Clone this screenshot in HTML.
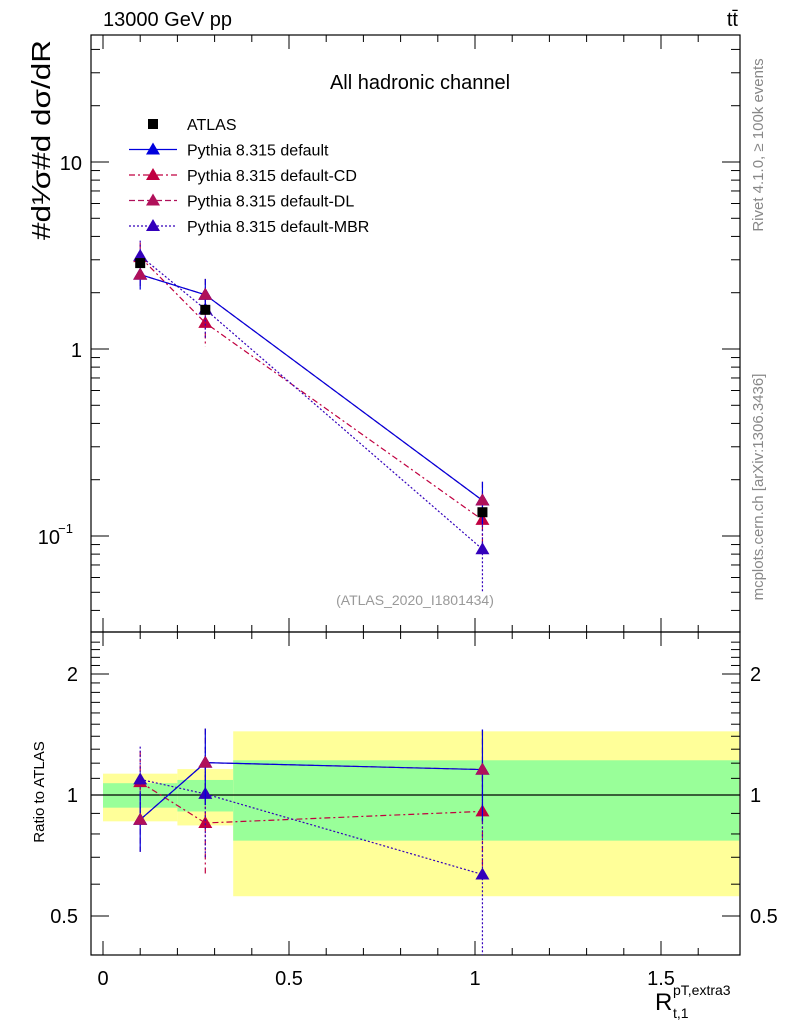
<!DOCTYPE html>
<html><head><meta charset="utf-8"><style>
body{margin:0;background:#fff;}
svg{display:block;font-family:"Liberation Sans",sans-serif;}
</style></head><body>
<svg id="c" width="786" height="1024"></svg>
<script>
const binLo=[0,0.2,0.35];
const binHi=[0.2,0.35,1.71];
const xPts=[0.1,0.275,1.02];
const atlas=[2.88,1.62,0.134];
const atlasErr=[0.15,0.08,0.006];
const bandGreenLo=[0.93,0.91,0.77];
const bandGreenHi=[1.07,1.09,1.22];
const bandYelLo=[0.86,0.84,0.56];
const bandYelHi=[1.13,1.16,1.44];
const sDefault=[2.5,1.95,0.155];
const sCD=[3.1,1.38,0.122];
const sDL=[2.5,1.95,0.155];
const sMBR=[3.15,1.63,0.085];
const errDefault=[0.42,0.42,0.04];
const errCD=[0.6,0.35,0.04];
const errDL=[0.42,0.42,0.04];
const errMBR=[0.65,0.5,0.035];
const xTicks=[0,0.5,1,1.5];
const xTickLabels=["0","0.5","1","1.5"];
const ratioTicks=[0.5,1,2];

const NS="http://www.w3.org/2000/svg";
const svg=document.getElementById('c');
const L=91,R=740,T=35,MB=632,RB=955;
const X=v=>103+v*372;
const Y=v=>162-(Math.log10(v)-1)*187;
const YR=v=>795-Math.log10(v)*402;
function el(t,a,p){const e=document.createElementNS(NS,t);for(const k in a)e.setAttribute(k,a[k]);(p||svg).appendChild(e);return e;}
function tx(x,y,s,size,anchor,fill,name,extra){const e=el('text',Object.assign({x:x,y:y,'font-size':size,'text-anchor':anchor||'start',fill:fill||'#000'},extra||{}));e.textContent=s;return e;}

for(let i=0;i<3;i++){
  const x0=X(binLo[i]),x1=Math.min(X(binHi[i]),R);
  const y=el('rect',{x:x0,y:YR(bandYelHi[i]),width:x1-x0,height:YR(bandYelLo[i])-YR(bandYelHi[i]),fill:'#ffff99'});
  
  const g=el('rect',{x:x0,y:YR(bandGreenHi[i]),width:x1-x0,height:YR(bandGreenLo[i])-YR(bandGreenHi[i]),fill:'#99ff99'});
  
}
const one=el('line',{x1:L,x2:R,y1:YR(1),y2:YR(1),stroke:'#000','stroke-width':1.2});


for(const [y0,y1,n] of [[T,MB,'main-frame'],[MB,RB,'ratio-frame']]){
  const f=el('rect',{x:L,y:y0,width:R-L,height:y1-y0,fill:'none',stroke:'#000','stroke-width':1.2});
  
}
for(const [y0,y1] of [[T,MB],[MB,RB]]){
  for(let v=0;v<=1.7;v+=0.1){
    const big=Math.abs(v*2-Math.round(v*2))<1e-6;const len=big?14:7;
    el('line',{x1:X(v),x2:X(v),y1:y1,y2:y1-len,stroke:'#000'});
    el('line',{x1:X(v),x2:X(v),y1:y0,y2:y0+len,stroke:'#000'});
  }
}
xTicks.forEach((v,i)=>tx(X(v),985,xTickLabels[i],20,'middle','#000','x-tick-label'));
for(let d=-2;d<=1;d++){for(let m=1;m<10;m++){const v=m*Math.pow(10,d);const y=Y(v);if(y<T||y>MB)continue;const len=m==1?18:9;
 el('line',{x1:L,x2:L+len,y1:y,y2:y,stroke:'#000'});el('line',{x1:R,x2:R-len,y1:y,y2:y,stroke:'#000'});}}
tx(82,170,'10',20,'end','#000','y-tick-10');
tx(82,357,'1',20,'end','#000','y-tick-1');
tx(60,544,'10',20,'end','#000','y-tick-0.1');
tx(73,533,'−1',13,'end','#000','y-tick-0.1-exp');
for(let v=0.4;v<=2.5;v+=0.1){const y=YR(v);if(y<MB||y>RB)continue;
 const big=[0.5,1,2].some(t=>Math.abs(t-v)<1e-6);const len=big?18:9;
 el('line',{x1:L,x2:L+len,y1:y,y2:y,stroke:'#000'});el('line',{x1:R,x2:R-len,y1:y,y2:y,stroke:'#000'});}
ratioTicks.forEach(v=>{tx(78,YR(v)+7,String(v),20,'end','#000','ratio-tick-left');tx(750,YR(v)+7,String(v),20,'start','#000','ratio-tick-right');});

const series=[
 {name:'cd',vals:sCD,err:errCD,col:'#c00040',dash:'6,3,2,3'},
 {name:'dl',vals:sDL,err:errDL,col:'#b0105a',dash:'6,3'},
 {name:'mbr',vals:sMBR,err:errMBR,col:'#3300bb',dash:'2,2'},
 {name:'default',vals:sDefault,err:errDefault,col:'#0000dd',dash:''}
];
function tri(x,y,col,name){const t=el('polygon',{points:`${x},${y-7} ${x-7},${y+5} ${x+7},${y+5}`,fill:col});}
series.forEach(s=>{
 const pts=s.vals.map((v,i)=>X(xPts[i])+','+Y(v)).join(' ');
 const p=el('polyline',{points:pts,fill:'none',stroke:s.col,'stroke-width':1.2,'stroke-dasharray':s.dash});
 
 const rpts=s.vals.map((v,i)=>X(xPts[i])+','+YR(v/atlas[i])).join(' ');
 const rp=el('polyline',{points:rpts,fill:'none',stroke:s.col,'stroke-width':1.2,'stroke-dasharray':s.dash});
 
 s.vals.forEach((v,i)=>{
  const x=X(xPts[i]);
  el('line',{x1:x,x2:x,y1:Y(v+s.err[i]),y2:Y(Math.max(v-s.err[i],0.031)),stroke:s.col,'stroke-width':1.2,'stroke-dasharray':s.dash});
  const r=v/atlas[i],re=s.err[i]/atlas[i];
  el('line',{x1:x,x2:x,y1:Math.max(YR(r+re),MB),y2:Math.min(YR(Math.max(r-re,0.4)),RB),stroke:s.col,'stroke-width':1.2,'stroke-dasharray':s.dash});
  tri(x,Y(v),s.col,'point-'+s.name);
  tri(x,YR(r),s.col,'ratio-point-'+s.name);
 });
});
// redraw DL markers on top so they dominate like reference
sDL.forEach((v,i)=>{const x=X(xPts[i]);tri(x,Y(v),'#b0105a','point-dl-top');tri(x,YR(v/atlas[i]),'#b0105a','ratio-point-dl-top');});
atlas.forEach((v,i)=>{const x=X(xPts[i]);
 el('line',{x1:x,x2:x,y1:Y(v+atlasErr[i]),y2:Y(v-atlasErr[i]),stroke:'#000'});
 const r=el('rect',{x:x-5,y:Y(v)-5,width:10,height:10,fill:'#000'});
 });

tx(420,89,'All hadronic channel',20,'middle','#000','channel-title');
const lcol={default:'#0000dd',cd:'#c00040',dl:'#b0105a',mbr:'#3300bb'};
const ldash={default:'',cd:'6,3,2,3',dl:'6,3',mbr:'2,2'};
const lg=[['ATLAS',null],['Pythia 8.315 default','default'],['Pythia 8.315 default-CD','cd'],['Pythia 8.315 default-DL','dl'],['Pythia 8.315 default-MBR','mbr']];
lg.forEach((e,i)=>{const y=124+i*25.5;
 if(!e[1]){const r=el('rect',{x:148,y:y-5,width:10,height:10,fill:'#000'});}
 else{el('line',{x1:129,x2:177,y1:y,y2:y,stroke:lcol[e[1]],'stroke-width':1.2,'stroke-dasharray':ldash[e[1]]});tri(153,y,lcol[e[1]],'legend-marker');}
 tx(187,y+6,e[0],16,'start','#000','legend-entry');});

tx(103,26,'13000 GeV pp',20,'start','#000','collider-label');
tx(738,26,'tt̄',20,'end','#000','process-label');
tx(415,605,'(ATLAS_2020_I1801434)',14,'middle','#999','analysis-id');
tx(763,145,'Rivet 4.1.0, ≥ 100k events',15,'middle','#888','rivet-label',{transform:'rotate(-90 763 145)'});
tx(763,487,'mcplots.cern.ch [arXiv:1306.3436]',15,'middle','#888','mcplots-label',{transform:'rotate(-90 763 487)'});
tx(44,792,'Ratio to ATLAS',15,'middle','#000','ratio-y-title',{transform:'rotate(-90 44 792)'});
tx(50,140,'#d¹⁄σ#d dσ/dR',26,'middle','#000','y-axis-title',{transform:'rotate(-90 50 140)',textLength:200,lengthAdjust:'spacingAndGlyphs'});
tx(655,1010,'R',24,'start','#000','x-axis-title');
tx(673,995,'pT,extra3',14,'start','#000','x-axis-title-sup');
tx(673,1018,'t,1',14,'start','#000','x-axis-title-sub');
</script>
</body></html>
